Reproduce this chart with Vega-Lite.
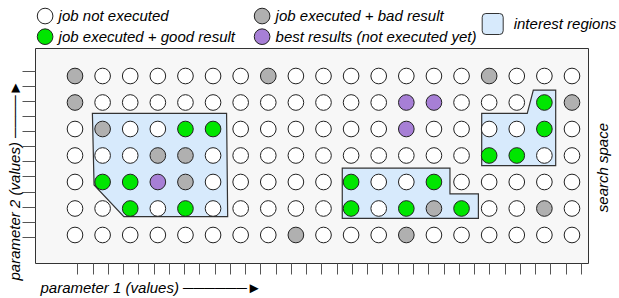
{
  "$schema": "https://vega.github.io/schema/vega-lite/v6.json",
  "width": 553,
  "height": 215,
  "autosize": "none",
  "padding": {"left": 35, "top": 48, "right": 31, "bottom": 35},
  "background": "white",
  "config": {
    "view": {"fill": "#f7f7f7", "stroke": "#333333", "strokeWidth": 1},
    "font": "Liberation Sans",
    "axis": {"titleFont": "Liberation Sans", "titleFontStyle": "italic", "titleFontWeight": "normal", "titleFontSize": 15, "titleColor": "#000000"},
    "legend": {"labelFont": "Liberation Sans", "labelFontStyle": "italic", "labelFontSize": 15, "labelColor": "#000000", "labelLimit": 400}
  },
  "datasets": {
    "pts": [
      {"c":1,"r":7,"s":"job executed + bad result"},{"c":2,"r":7,"s":"job not executed"},{"c":3,"r":7,"s":"job not executed"},{"c":4,"r":7,"s":"job not executed"},{"c":5,"r":7,"s":"job not executed"},{"c":6,"r":7,"s":"job not executed"},{"c":7,"r":7,"s":"job not executed"},{"c":8,"r":7,"s":"job executed + bad result"},{"c":9,"r":7,"s":"job not executed"},{"c":10,"r":7,"s":"job not executed"},{"c":11,"r":7,"s":"job not executed"},{"c":12,"r":7,"s":"job not executed"},{"c":13,"r":7,"s":"job not executed"},{"c":14,"r":7,"s":"job not executed"},{"c":15,"r":7,"s":"job not executed"},{"c":16,"r":7,"s":"job executed + bad result"},{"c":17,"r":7,"s":"job not executed"},{"c":18,"r":7,"s":"job not executed"},{"c":19,"r":7,"s":"job not executed"},
      {"c":1,"r":6,"s":"job executed + bad result"},{"c":2,"r":6,"s":"job not executed"},{"c":3,"r":6,"s":"job not executed"},{"c":4,"r":6,"s":"job not executed"},{"c":5,"r":6,"s":"job not executed"},{"c":6,"r":6,"s":"job not executed"},{"c":7,"r":6,"s":"job not executed"},{"c":8,"r":6,"s":"job not executed"},{"c":9,"r":6,"s":"job not executed"},{"c":10,"r":6,"s":"job not executed"},{"c":11,"r":6,"s":"job not executed"},{"c":12,"r":6,"s":"job not executed"},{"c":13,"r":6,"s":"best results (not executed yet)"},{"c":14,"r":6,"s":"best results (not executed yet)"},{"c":15,"r":6,"s":"job not executed"},{"c":16,"r":6,"s":"job not executed"},{"c":17,"r":6,"s":"job not executed"},{"c":18,"r":6,"s":"job executed + good result"},{"c":19,"r":6,"s":"job executed + bad result"},
      {"c":1,"r":5,"s":"job not executed"},{"c":2,"r":5,"s":"job executed + bad result"},{"c":3,"r":5,"s":"job not executed"},{"c":4,"r":5,"s":"job not executed"},{"c":5,"r":5,"s":"job executed + good result"},{"c":6,"r":5,"s":"job executed + good result"},{"c":7,"r":5,"s":"job not executed"},{"c":8,"r":5,"s":"job not executed"},{"c":9,"r":5,"s":"job not executed"},{"c":10,"r":5,"s":"job not executed"},{"c":11,"r":5,"s":"job not executed"},{"c":12,"r":5,"s":"job not executed"},{"c":13,"r":5,"s":"best results (not executed yet)"},{"c":14,"r":5,"s":"job not executed"},{"c":15,"r":5,"s":"job not executed"},{"c":16,"r":5,"s":"job not executed"},{"c":17,"r":5,"s":"job not executed"},{"c":18,"r":5,"s":"job executed + good result"},{"c":19,"r":5,"s":"job not executed"},
      {"c":1,"r":4,"s":"job not executed"},{"c":2,"r":4,"s":"job not executed"},{"c":3,"r":4,"s":"job not executed"},{"c":4,"r":4,"s":"job executed + bad result"},{"c":5,"r":4,"s":"job executed + bad result"},{"c":6,"r":4,"s":"job not executed"},{"c":7,"r":4,"s":"job not executed"},{"c":8,"r":4,"s":"job not executed"},{"c":9,"r":4,"s":"job not executed"},{"c":10,"r":4,"s":"job not executed"},{"c":11,"r":4,"s":"job not executed"},{"c":12,"r":4,"s":"job not executed"},{"c":13,"r":4,"s":"job not executed"},{"c":14,"r":4,"s":"job not executed"},{"c":15,"r":4,"s":"job not executed"},{"c":16,"r":4,"s":"job executed + good result"},{"c":17,"r":4,"s":"job executed + good result"},{"c":18,"r":4,"s":"job not executed"},{"c":19,"r":4,"s":"job not executed"},
      {"c":1,"r":3,"s":"job not executed"},{"c":2,"r":3,"s":"job executed + good result"},{"c":3,"r":3,"s":"job executed + good result"},{"c":4,"r":3,"s":"best results (not executed yet)"},{"c":5,"r":3,"s":"job executed + bad result"},{"c":6,"r":3,"s":"job not executed"},{"c":7,"r":3,"s":"job not executed"},{"c":8,"r":3,"s":"job not executed"},{"c":9,"r":3,"s":"job not executed"},{"c":10,"r":3,"s":"job not executed"},{"c":11,"r":3,"s":"job executed + good result"},{"c":12,"r":3,"s":"job not executed"},{"c":13,"r":3,"s":"job not executed"},{"c":14,"r":3,"s":"job executed + good result"},{"c":15,"r":3,"s":"job not executed"},{"c":16,"r":3,"s":"job not executed"},{"c":17,"r":3,"s":"job not executed"},{"c":18,"r":3,"s":"job not executed"},{"c":19,"r":3,"s":"job not executed"},
      {"c":1,"r":2,"s":"job not executed"},{"c":2,"r":2,"s":"job not executed"},{"c":3,"r":2,"s":"job executed + good result"},{"c":4,"r":2,"s":"job not executed"},{"c":5,"r":2,"s":"job executed + good result"},{"c":6,"r":2,"s":"job not executed"},{"c":7,"r":2,"s":"job not executed"},{"c":8,"r":2,"s":"job not executed"},{"c":9,"r":2,"s":"job not executed"},{"c":10,"r":2,"s":"job not executed"},{"c":11,"r":2,"s":"job executed + good result"},{"c":12,"r":2,"s":"job not executed"},{"c":13,"r":2,"s":"job executed + good result"},{"c":14,"r":2,"s":"job executed + bad result"},{"c":15,"r":2,"s":"job executed + good result"},{"c":16,"r":2,"s":"job not executed"},{"c":17,"r":2,"s":"job not executed"},{"c":18,"r":2,"s":"job executed + bad result"},{"c":19,"r":2,"s":"job not executed"},
      {"c":1,"r":1,"s":"job not executed"},{"c":2,"r":1,"s":"job not executed"},{"c":3,"r":1,"s":"job not executed"},{"c":4,"r":1,"s":"job not executed"},{"c":5,"r":1,"s":"job not executed"},{"c":6,"r":1,"s":"job not executed"},{"c":7,"r":1,"s":"job not executed"},{"c":8,"r":1,"s":"job not executed"},{"c":9,"r":1,"s":"job executed + bad result"},{"c":10,"r":1,"s":"job not executed"},{"c":11,"r":1,"s":"job not executed"},{"c":12,"r":1,"s":"job not executed"},{"c":13,"r":1,"s":"job executed + bad result"},{"c":14,"r":1,"s":"job not executed"},{"c":15,"r":1,"s":"job not executed"},{"c":16,"r":1,"s":"job not executed"},{"c":17,"r":1,"s":"job not executed"},{"c":18,"r":1,"s":"job not executed"},{"c":19,"r":1,"s":"job not executed"}
    ],
    "reg": [
      {"g":"A","o":1,"c":1.63,"r":5.59,"k":"interest regions"},
      {"g":"A","o":2,"c":6.49,"r":5.59,"k":"interest regions"},
      {"g":"A","o":3,"c":6.53,"r":1.69,"k":"interest regions"},
      {"g":"A","o":4,"c":2.77,"r":1.69,"k":"interest regions"},
      {"g":"A","o":5,"c":1.69,"r":2.89,"k":"interest regions"},
      {"g":"B","o":1,"c":10.68,"r":3.52,"k":"interest regions"},
      {"g":"B","o":2,"c":14.58,"r":3.52,"k":"interest regions"},
      {"g":"B","o":3,"c":14.58,"r":2.55,"k":"interest regions"},
      {"g":"B","o":4,"c":15.61,"r":2.55,"k":"interest regions"},
      {"g":"B","o":5,"c":15.61,"r":1.63,"k":"interest regions"},
      {"g":"B","o":6,"c":10.68,"r":1.63,"k":"interest regions"},
      {"g":"C","o":1,"c":15.73,"r":5.59,"k":"interest regions"},
      {"g":"C","o":2,"c":17.38,"r":5.59,"k":"interest regions"},
      {"g":"C","o":3,"c":17.6,"r":6.47,"k":"interest regions"},
      {"g":"C","o":4,"c":18.41,"r":6.47,"k":"interest regions"},
      {"g":"C","o":5,"c":18.41,"r":3.62,"k":"interest regions"},
      {"g":"C","o":6,"c":15.73,"r":3.62,"k":"interest regions"}
    ]
  },
  "encoding": {
    "x": {
      "field": "c", "type": "quantitative",
      "scale": {"domain": [-0.4487, 19.58], "nice": false, "zero": false},
      "axis": {
        "values": [1.083,1.636,2.188,2.741,3.294,3.847,4.399,4.952,5.505,6.057,6.61,7.163,7.715,8.268,8.821,9.374,9.926,10.479,11.032,11.584,12.137,12.69,13.242,13.795,14.348,14.901,15.453,16.006,16.559,17.111,17.664,18.217,18.769,19.322],
        "labels": false, "domain": false, "grid": false,
        "ticks": true, "tickSize": 11, "tickColor": "#555555", "tickWidth": 1,
        "title": "parameter 1 (values) ──────►",
        "titleAnchor": "start", "titleAlign": "left", "titleBaseline": "middle",
        "titleX": 5, "titleY": 24
      }
    }
  },
  "layer": [
    {
      "data": {"name": "reg"},
      "mark": {"type": "line", "interpolate": "linear-closed", "stroke": "#333333", "strokeWidth": 1.2},
      "encoding": {
        "y": {
          "field": "r", "type": "quantitative",
          "scale": {"domain": [-0.057, 8.057], "nice": false, "zero": false},
          "axis": {
            "values": [0.936,1.504,2.073,2.641,3.209,3.778,4.346,4.914,5.482,6.051,6.619,7.187],
            "labels": false, "domain": false, "grid": false,
            "ticks": true, "tickSize": 13, "tickColor": "#555555", "tickWidth": 1,
            "title": "parameter 2 (values) ────►",
            "titleAngle": -90, "titleAlign": "left", "titleBaseline": "middle",
            "titleX": -20.5, "titleY": 232
          }
        },
        "order": {"field": "o", "type": "quantitative"},
        "detail": {"field": "g", "type": "nominal"},
        "fill": {
          "field": "k", "type": "nominal",
          "scale": {"range": ["#d7eafc"]},
          "legend": {
            "title": null, "orient": "none", "legendX": 446.7, "legendY": -35,
            "symbolType": "M -0.65,-1 L 0.65,-1 Q 1,-1 1,-0.65 L 1,0.65 Q 1,1 0.65,1 L -0.65,1 Q -1,1 -1,0.65 L -1,-0.65 Q -1,-1 -0.65,-1 Z",
            "symbolSize": 441, "symbolStrokeColor": "#333333", "symbolStrokeWidth": 1, "symbolFillColor": "#d7eafc",
            "labelOffset": 10, "padding": 0
          }
        }
      }
    },
    {
      "data": {"name": "pts"},
      "mark": {"type": "point", "filled": true, "shape": "circle", "size": 245, "stroke": "#222222", "strokeWidth": 1, "opacity": 1},
      "encoding": {
        "y": {
          "field": "r", "type": "quantitative",
          "scale": {"domain": [-0.057, 8.057], "nice": false, "zero": false},
          "axis": {
            "orient": "right",
            "labels": false, "domain": false, "grid": false, "ticks": false,
            "title": "search space",
            "titleAngle": -90, "titleAlign": "left", "titleBaseline": "middle",
            "titleX": 14, "titleY": 163.7
          }
        },
        "fill": {
          "field": "s", "type": "nominal",
          "scale": {
            "domain": ["job not executed", "job executed + good result", "job executed + bad result", "best results (not executed yet)"],
            "range": ["#ffffff", "#00e600", "#b0b0b0", "#a77fd6"]
          },
          "legend": {
            "title": null, "orient": "none", "legendX": 1.6, "legendY": -40.8,
            "columns": 2, "columnPadding": 16, "rowPadding": 0,
            "symbolType": "circle", "symbolSize": 245, "symbolStrokeColor": "#222222", "symbolStrokeWidth": 1,
            "labelOffset": 5, "padding": 0, "labelLimit": 400
          }
        }
      }
    }
  ],
  "resolve": {"scale": {"fill": "independent"}, "axis": {"y": "independent"}}
}
